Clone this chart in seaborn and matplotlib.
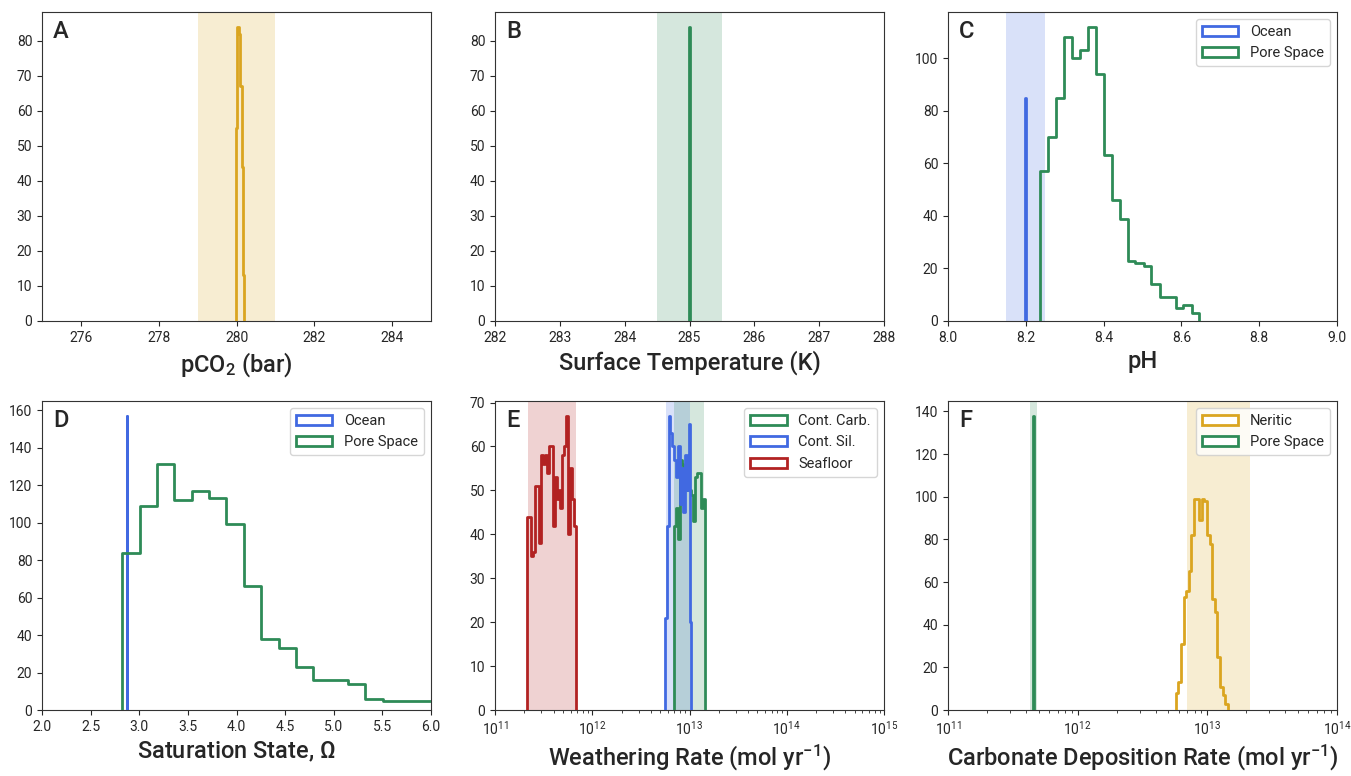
import numpy as np
import pandas as pd
import matplotlib
matplotlib.use("Agg")
import matplotlib.pyplot as plt
import seaborn as sns
from matplotlib.patches import Patch

# ---------------- data ----------------
# A: pCO2 (bar)
pco2_edges = [279.98, 280.00, 280.02, 280.04, 280.06, 280.08, 280.10, 280.12, 280.14, 280.16, 280.18, 280.20]
pco2_counts = [55, 76, 84, 84, 82, 82, 67, 67, 44, 13, 13]
pco2_band = [279.0, 281.0]

# B: surface temperature (K)
temp_edges = [284.99, 285.00, 285.01]
temp_counts = [84, 82]
temp_band = [284.5, 285.5]

# C: pH
ph_ocean_edges = [8.199, 8.201]
ph_ocean_counts = [85]
ph_pore_edges = [8.236, 8.257, 8.277, 8.298, 8.318, 8.339, 8.359, 8.380, 8.400, 8.421, 8.441,
                 8.462, 8.482, 8.503, 8.523, 8.544, 8.564, 8.585, 8.605, 8.626, 8.646]
ph_pore_counts = [57, 70, 85, 108, 100, 103, 112, 94, 63, 46, 39, 23, 22, 21, 14, 9, 9, 5, 6, 3]
ph_band = [8.15, 8.25]

# D: saturation state
om_ocean_edges = [2.869, 2.877]
om_ocean_counts = [157]
om_pore_edges = [2.825, 3.003, 3.182, 3.361, 3.539, 3.718, 3.896, 4.075, 4.254, 4.432, 4.611,
                 4.789, 4.968, 5.146, 5.325, 5.504, 5.682, 5.861, 6.039, 6.218]
om_pore_counts = [84, 109, 131, 112, 117, 113, 99, 66, 38, 33, 23, 16, 16, 14, 6, 5, 5, 5, 4]

# E: weathering rates (log10 mol/yr bin edges)
carb_log_edges = [12.838, 12.858, 12.878, 12.898, 12.918, 12.938, 12.958, 12.978, 12.998, 13.018,
                  13.038, 13.058, 13.078, 13.098, 13.118, 13.138, 13.158]
carb_counts = [42, 46, 39, 57, 56, 55, 50, 52, 50, 49, 43, 53, 54, 54, 46, 48]
sil_log_edges = [12.753, 12.766, 12.785, 12.804, 12.823, 12.842, 12.861, 12.880, 12.899, 12.918,
                 12.937, 12.956, 12.975, 12.994, 13.007, 13.018]
sil_counts = [21, 42, 67, 63, 60, 57, 53, 60, 47, 55, 45, 58, 50, 65, 20]
sea_log_edges = [11.333, 11.353, 11.373, 11.393, 11.413, 11.433, 11.453, 11.473, 11.493, 11.513,
                 11.533, 11.553, 11.573, 11.593, 11.613, 11.633, 11.653, 11.673, 11.693, 11.713,
                 11.733, 11.753, 11.773, 11.793, 11.813, 11.833]
sea_counts = [44, 44, 35, 36, 51, 51, 38, 58, 56, 58, 54, 60, 60, 42, 53, 48, 50, 46, 58, 60,
              67, 40, 55, 48, 42]
carb_band = [6.9e12, 1.4e13]
sil_band = [5.8e12, 1.02e13]
sea_band = [2.2e11, 6.8e11]

# F: carbonate deposition (log10 mol/yr bin edges)
ner_log_edges = [12.757, 12.777, 12.797, 12.817, 12.837, 12.857, 12.877, 12.897, 12.917, 12.937,
                 12.957, 12.977, 12.997, 13.017, 13.037, 13.057, 13.077, 13.097, 13.117, 13.137, 13.157]
ner_counts = [8, 13, 31, 53, 56, 65, 82, 99, 99, 89, 99, 98, 82, 78, 52, 46, 25, 11, 7, 3]
dep_pore_log_edges = [11.657, 11.663]
dep_pore_counts = [138]
ner_band = [7.0e12, 2.15e13]
dep_pore_band = [4.28e11, 4.89e11]

# ---------------- style ----------------
BLUE = "#4169E1"
GREEN = "#2E8B57"
RED = "#B22222"
GOLD = "#DAA520"

sns.set_style("ticks")
plt.rcParams["font.family"] = ["Roboto", "DejaVu Sans"]
plt.rcParams["mathtext.default"] = "regular"
plt.rcParams["xtick.labelsize"] = 10
plt.rcParams["ytick.labelsize"] = 10
plt.rcParams["axes.edgecolor"] = "0.2"

fig = plt.figure(figsize=(13.51, 7.76), dpi=100)
COLS = [42, 495, 948]
WID = 389
ROWS = [(12, 321), (401, 710)]


def make_ax(c, r):
    top, bot = ROWS[r]
    return fig.add_axes([COLS[c] / 1351, 1 - bot / 776, WID / 1351, (bot - top) / 776])


def hist(ax, edges, counts, color, log=False):
    edges = [float(e) for e in edges]
    counts = [float(c) for c in counts]
    # zero-height sliver bins on both ends so the outline drops to the baseline
    tiny = 1e-7
    edges = [edges[0] - tiny] + edges + [edges[-1] + tiny]
    counts = [0.0] + counts + [0.0]
    centers = [(a + b) / 2 for a, b in zip(edges[:-1], edges[1:])]
    xs = [10 ** c for c in centers] if log else centers
    df = pd.DataFrame({"v": xs, "w": counts})
    sns.histplot(data=df, x="v", weights="w", bins=edges, log_scale=log, element="step",
                 fill=False, color=color, linewidth=2, ax=ax, zorder=3)


def finish(ax, letter, xlabel, xlim, ymax, handles=None):
    ax.set_xlim(*xlim)
    ax.set_ylim(0, ymax * 1.05)
    ax.set_ylabel("")
    ax.set_xlabel(xlabel, fontsize=17, fontweight="medium")
    ax.text(0.028, 0.975, letter, transform=ax.transAxes, fontsize=17,
            fontweight="medium", ha="left", va="top")
    if handles:
        ax.legend(handles=handles, loc="upper right", fontsize=10.5, framealpha=0.8,
                  handlelength=2.5)


def leg(items):
    return [Patch(facecolor="white", edgecolor=c, linewidth=2, label=l) for l, c in items]


# A
ax = make_ax(0, 0)
ax.axvspan(*pco2_band, color=GOLD, alpha=0.2, lw=0, zorder=1)
hist(ax, pco2_edges, pco2_counts, GOLD)
finish(ax, "A", "pCO$_2$ (bar)", (275, 285), max(pco2_counts))
ax.set_xticks([276, 278, 280, 282, 284])

# B
ax = make_ax(1, 0)
ax.axvspan(*temp_band, color=GREEN, alpha=0.2, lw=0, zorder=1)
hist(ax, temp_edges, temp_counts, GREEN)
finish(ax, "B", "Surface Temperature (K)", (282, 288), max(temp_counts))
ax.set_xticks([282, 283, 284, 285, 286, 287, 288])

# C
ax = make_ax(2, 0)
ax.axvspan(*ph_band, color=BLUE, alpha=0.2, lw=0, zorder=1)
hist(ax, ph_ocean_edges, ph_ocean_counts, BLUE)
hist(ax, ph_pore_edges, ph_pore_counts, GREEN)
finish(ax, "C", "pH", (8.0, 9.0), max(ph_pore_counts + ph_ocean_counts),
       leg([("Ocean", BLUE), ("Pore Space", GREEN)]))

# D
ax = make_ax(0, 1)
hist(ax, om_ocean_edges, om_ocean_counts, BLUE)
hist(ax, om_pore_edges, om_pore_counts, GREEN)
finish(ax, "D", "Saturation State, $\\Omega$", (2.0, 6.0),
       max(om_pore_counts + om_ocean_counts),
       leg([("Ocean", BLUE), ("Pore Space", GREEN)]))

# E
ax = make_ax(1, 1)
ax.axvspan(*sea_band, color=RED, alpha=0.2, lw=0, zorder=1)
ax.axvspan(*sil_band, color=BLUE, alpha=0.2, lw=0, zorder=1)
ax.axvspan(*carb_band, color=GREEN, alpha=0.2, lw=0, zorder=1)
hist(ax, carb_log_edges, carb_counts, GREEN, log=True)
hist(ax, sil_log_edges, sil_counts, BLUE, log=True)
hist(ax, sea_log_edges, sea_counts, RED, log=True)
finish(ax, "E", "Weathering Rate (mol yr$^{-1}$)", (1e11, 1e15),
       max(carb_counts + sil_counts + sea_counts),
       leg([("Cont. Carb.", GREEN), ("Cont. Sil.", BLUE), ("Seafloor", RED)]))

# F
ax = make_ax(2, 1)
ax.axvspan(*dep_pore_band, color=GREEN, alpha=0.2, lw=0, zorder=1)
ax.axvspan(*ner_band, color=GOLD, alpha=0.2, lw=0, zorder=1)
hist(ax, ner_log_edges, ner_counts, GOLD, log=True)
hist(ax, dep_pore_log_edges, dep_pore_counts, GREEN, log=True)
finish(ax, "F", "Carbonate Deposition Rate (mol yr$^{-1}$)", (1e11, 1e14),
       max(ner_counts + dep_pore_counts),
       leg([("Neritic", GOLD), ("Pore Space", GREEN)]))

fig.savefig("out.png", dpi=100)
